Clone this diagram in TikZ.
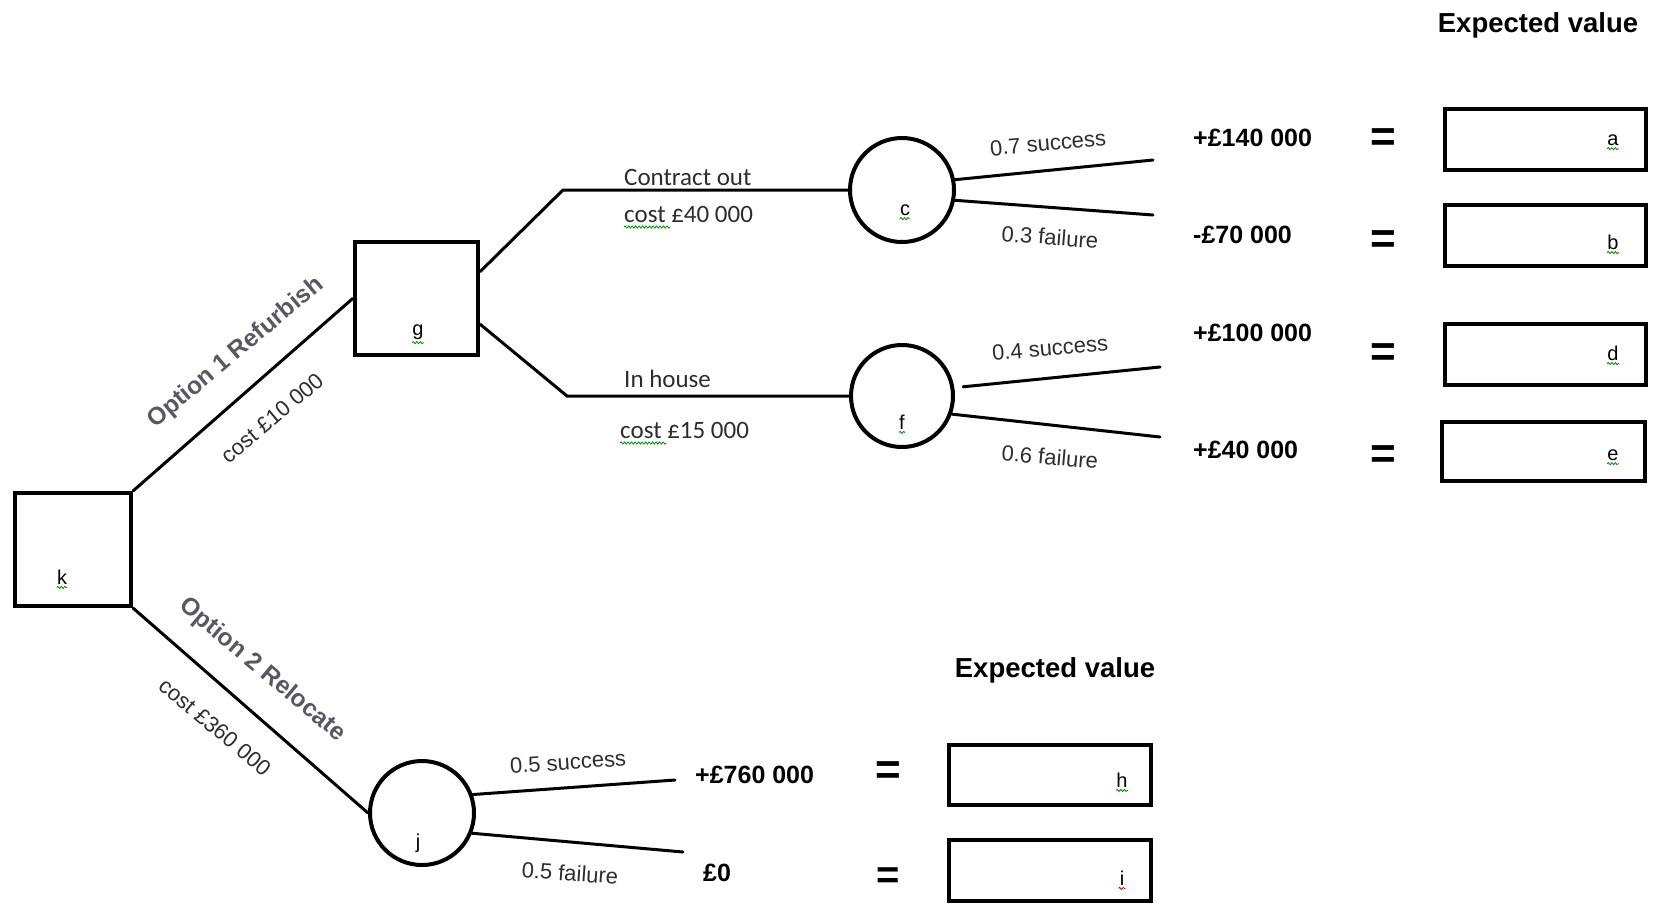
\documentclass[tikz,border=0pt]{standalone}
\usepackage{fontspec}
\setmainfont{Liberation Sans}
\newfontfamily\calfont{Carlito}
\usetikzlibrary{calc,decorations.pathmorphing}
\definecolor{optgray}{RGB}{88,88,98}
\definecolor{txtgray}{RGB}{45,45,45}
\begin{document}
\begin{tikzpicture}[x=1pt,y=-1pt,
  dbox/.style={draw=black,line width=4.5pt,rectangle,inner sep=0pt,minimum width=116pt,minimum height=113pt},
  chance/.style={draw=black,line width=4pt,circle,inner sep=0pt,minimum size=104pt},
  evbox/.style={draw=black,line width=4pt,rectangle,inner sep=0pt,minimum width=201pt,minimum height=61pt},
  conn/.style={line width=3pt,line cap=round},
  lbl/.style={inner sep=0pt,font=\fontsize{20}{24}\selectfont},
  prob/.style={inner sep=0pt,text=txtgray,font=\fontsize{22}{26}\selectfont},
  optlbl/.style={inner sep=0pt,text=optgray,font=\bfseries\fontsize{24.5}{28}\selectfont},
  costlbl/.style={inner sep=0pt,text=txtgray,font=\fontsize{22}{26}\selectfont},
  caltxt/.style={inner sep=0pt,anchor=west,text=txtgray,font=\calfont\fontsize{25}{30}\selectfont},
  val/.style={inner sep=0pt,anchor=west,font=\bfseries\fontsize{25}{30}\selectfont},
  eqs/.style={inner sep=0pt,font=\bfseries\fontsize{44}{50}\selectfont},
  evhead/.style={inner sep=0pt,font=\bfseries\fontsize{27.5}{32}\selectfont},
  squig/.style={decorate,decoration={snake,amplitude=1.1pt,segment length=3.5pt},line width=0.8pt,draw=green!55!black},
  squigred/.style={squig,draw=red!80!black}
]
\useasboundingbox (0,0) rectangle (1656,906);

% decision and chance nodes
\node[dbox] (k) at (73,549.5) {};
\node[dbox,minimum width=123pt] (g) at (416.5,298.5) {};
\node[chance] (c) at (902,190) {};
\node[chance,minimum size=102pt] (f) at (902,396) {};
\node[chance] (j) at (422,813) {};

% expected value boxes
\node[evbox] (a) at (1545.5,139.5) {};
\node[evbox] (b) at (1545.5,235.5) {};
\node[evbox] (d) at (1545.5,354.5) {};
\node[evbox,minimum width=203pt,minimum height=59pt] (e) at (1543.5,451.5) {};
\node[evbox,minimum width=202pt,minimum height=60pt] (h) at (1050,775) {};
\node[evbox,minimum width=202pt] (i) at (1050,870.5) {};

% coordinates
\coordinate (gc) at (563,190);
\coordinate (gf) at (567,396);
\coordinate (ca) at (1153,160);
\coordinate (cb) at (1153,215);
\coordinate (fd) at (1160,367);
\coordinate (fe) at (1160,437);
\coordinate (jh) at (675,780);
\coordinate (ji) at (683,852);

% connectors
\draw[conn] (k.north east) -- (g.west);
\draw[conn] (k.south east) -- (j.west);
\draw[conn] ($(g.north east)!0.27!(g.south east)$) -- (gc) -- (c.west);
\draw[conn] ($(g.north east)!0.72!(g.south east)$) -- (gf) -- (f.west);
\draw[conn] (c.11) -- (ca);
\draw[conn] (c.-11) -- (cb);
\draw[conn] ([xshift=9pt]f.10) -- (fd);
\draw[conn] (f.-20) -- (fe);
\draw[conn] (j.20) -- (jh);
\draw[conn] (j.-22) -- (ji);

% node letters
\node[lbl] (kl) at (62,577) {k};
\node[lbl] (gl) at (418,332) {g};
\node[lbl] (cl) at (905,210) {c};
\node[lbl] (fl) at (902,422) {f};
\node[lbl] (jl) at (418,843) {j};
\node[lbl] (al) at (1613,140) {a};
\node[lbl] (bl) at (1613,242) {b};
\node[lbl] (dl) at (1613,353) {d};
\node[lbl] (el) at (1613,455) {e};
\node[lbl] (hl) at (1122,780) {h};
\node[lbl] (il) at (1122,878) {i};
\foreach \n in {kl,gl,cl,fl,al,bl,dl,el,hl}{
  \draw[squig] ($(\n.south west)+(0,3)$) -- ($(\n.south east)+(0,3)$);
}
\draw[squigred] ($(il.south west)+(-1,3)$) -- ($(il.south east)+(1,3)$);

% branch labels
\node[optlbl,rotate=40] (o1) at (236,353) {Option 1 Refurbish};
\node[costlbl,rotate=40] (o1c) at (272,418) {cost £10 000};
\node[optlbl,rotate=-40] (o2) at (262,670) {Option 2 Relocate};
\node[costlbl,rotate=-40] (o2c) at (215,727) {cost £360 000};

\node[caltxt] (co) at (624,177) {Contract out};
\node[caltxt] (coc) at (624,214) {cost £40 000};
\node[caltxt] (ih) at (624,379) {In house};
\node[caltxt] (ihc) at (620,430) {cost £15 000};
\draw[squig] (624,227) -- (670,227);
\draw[squig] (620,443) -- (666,443);

\node[prob,rotate=5.5] (p1) at (1048,143) {0.7 success};
\node[prob,rotate=-4.5] (p2) at (1050,237) {0.3 failure};
\node[prob,rotate=5] (p3) at (1050,348) {0.4 success};
\node[prob,rotate=-5] (p4) at (1050,457) {0.6 failure};
\node[prob,rotate=4] (p5) at (568,762) {0.5 success};
\node[prob,rotate=-4] (p6) at (570,873) {0.5 failure};

% outcome values
\node[val] (v1) at (1193,138) {+£140 000};
\node[val] (v2) at (1193,235) {-£70 000};
\node[val] (v3) at (1193,333) {+£100 000};
\node[val] (v4) at (1193,450) {+£40 000};
\node[val] (v5) at (695,775) {+£760 000};
\node[val] (v6) at (703,873) {£0};

% equals signs
\node[eqs] (e1) at (1383,140) {=};
\node[eqs] (e2) at (1383,242) {=};
\node[eqs] (e3) at (1383,355) {=};
\node[eqs] (e4) at (1383,457) {=};
\node[eqs] (e5) at (888,773) {=};
\node[eqs,font=\bfseries\fontsize{40}{46}\selectfont] (e6) at (888,878) {=};

% headings
\node[evhead] (ev1) at (1538,25) {Expected value};
\node[evhead] (ev2) at (1055,670) {Expected value};
\end{tikzpicture}
\end{document}
